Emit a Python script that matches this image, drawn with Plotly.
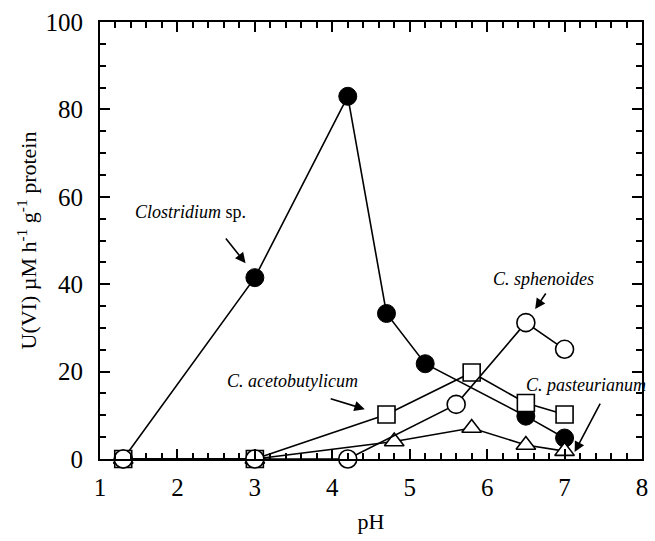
import plotly.graph_objects as go

# pH values and uranium(VI) reduction rates per organism
ph_clostridium = [1.3, 3.0, 4.2, 4.7, 5.2, 6.5, 7.0]
rate_clostridium = [0, 41.5, 83, 33.3, 21.8, 9.8, 4.8]

ph_acetobutylicum = [1.3, 3.0, 4.7, 5.8, 6.5, 7.0]
rate_acetobutylicum = [0, 0, 10.2, 19.8, 12.8, 10.2]

ph_pasteurianum = [1.3, 3.0, 4.8, 5.8, 6.5, 7.0]
rate_pasteurianum = [0, 0, 4.0, 7.1, 3.2, 1.8]

ph_sphenoides = [1.3, 3.0, 4.2, 5.6, 6.5, 7.0]
rate_sphenoides = [0, 0, 0, 12.5, 31.2, 25.1]

# Species labels: text, label position, arrow tail and arrow tip (data units)
label_texts = ["<i>Clostridium</i> sp.", "<i>C. sphenoides</i>",
               "<i>C. pasteurianum</i>", "<i>C. acetobutylicum</i>"]
label_x = [2.17, 6.73, 6.47, 3.49]
label_y = [56.5, 41.2, 16.9, 17.8]
label_anchor = ["center", "center", "left", "center"]
arrow_tail_x = [2.61, 6.77, 7.47, 3.96]
arrow_tail_y = [50.8, 38.2, 13.0, 13.9]
arrow_tip_x = [2.88, 6.62, 7.13, 4.42]
arrow_tip_y = [44.8, 34.3, 1.6, 11.4]

SERIF = "Liberation Serif"
line = dict(color="black", width=1.6)

fig = go.Figure()
fig.add_trace(go.Scatter(
    x=ph_clostridium, y=rate_clostridium, mode="lines+markers", line=line,
    marker=dict(symbol="circle", size=18, color="black", line=dict(color="black", width=1)),
    cliponaxis=False, showlegend=False))
fig.add_trace(go.Scatter(
    x=ph_pasteurianum, y=rate_pasteurianum, mode="lines+markers", line=line,
    marker=dict(symbol="triangle-up", size=17, color="white", line=dict(color="black", width=1.6)),
    cliponaxis=False, showlegend=False))
fig.add_trace(go.Scatter(
    x=ph_acetobutylicum, y=rate_acetobutylicum, mode="lines+markers", line=line,
    marker=dict(symbol="square", size=17, color="white", line=dict(color="black", width=1.6)),
    cliponaxis=False, showlegend=False))
fig.add_trace(go.Scatter(
    x=ph_sphenoides, y=rate_sphenoides, mode="lines+markers", line=line,
    marker=dict(symbol="circle", size=18, color="white", line=dict(color="black", width=1.6)),
    cliponaxis=False, showlegend=False))

ann_font = dict(family=SERIF, size=18, color="black")
annotations = [
    dict(x=x, y=y, text=t, showarrow=False, font=ann_font, xanchor=a)
    for t, x, y, a in zip(label_texts, label_x, label_y, label_anchor)
]
# Pointer arrows from each label towards its curve
annotations += [
    dict(x=hx, y=hy, ax=tx, ay=ty, axref="x", ayref="y", text="",
         showarrow=True, arrowhead=2, arrowsize=1.3, arrowwidth=1.6, arrowcolor="black")
    for tx, ty, hx, hy in zip(arrow_tail_x, arrow_tail_y, arrow_tip_x, arrow_tip_y)
]

axis_common = dict(
    showline=True, linecolor="black", linewidth=2, mirror="ticks",
    ticks="inside", tickcolor="black", tickwidth=1.5, ticklen=10,
    showgrid=False, zeroline=False,
    tickfont=dict(family=SERIF, size=25, color="black"),
)

fig.update_layout(
    width=655, height=541,
    margin=dict(l=100, r=7, t=22, b=82),
    paper_bgcolor="white", plot_bgcolor="white",
    xaxis=dict(range=[1, 8], dtick=1, tick0=1, ticklabelstandoff=5,
               minor=dict(dtick=0.2, ticks="inside", ticklen=6, tickcolor="black", tickwidth=1.5),
               title=dict(text="pH", font=dict(family=SERIF, size=22, color="black"), standoff=14),
               **axis_common),
    yaxis=dict(range=[0, 100], dtick=20, ticklabelstandoff=10,
               minor=dict(dtick=5, ticks="inside", ticklen=6, tickcolor="black", tickwidth=1.5),
               title=dict(text="U(VI) µM h<sup>-1</sup> g<sup>-1</sup> protein",
                          font=dict(family=SERIF, size=22, color="black"), standoff=3),
               **axis_common),
    annotations=annotations,
)

fig.write_html("out.html")
